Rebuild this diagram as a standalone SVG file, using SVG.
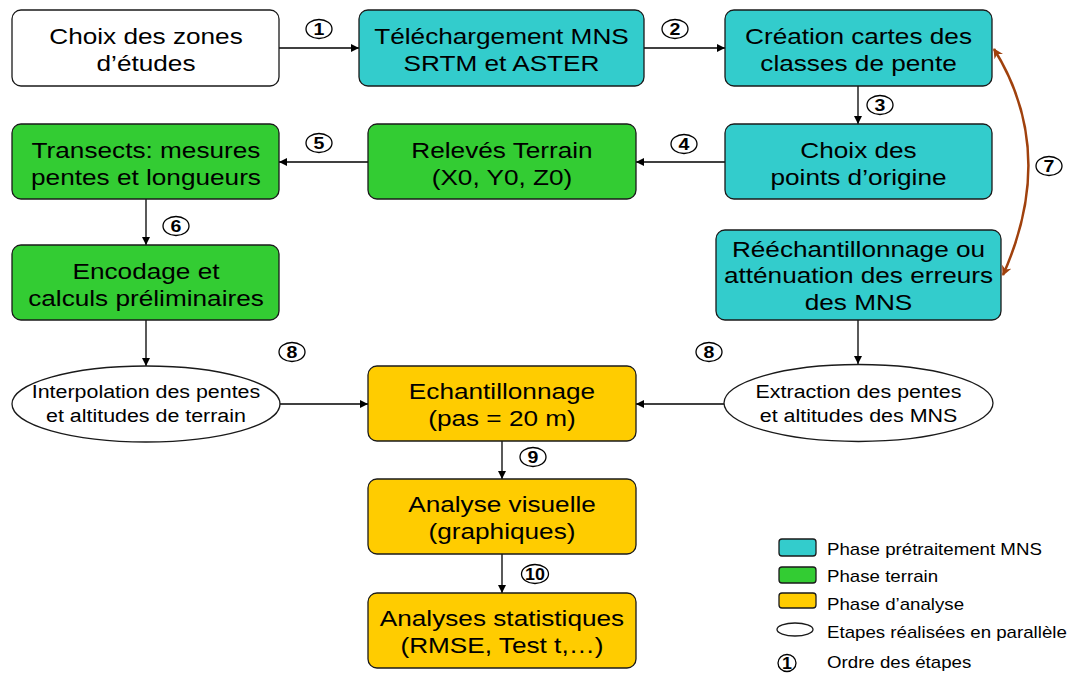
<svg xmlns="http://www.w3.org/2000/svg" width="1073" height="675" viewBox="0 0 1073 675">
<defs>
<style>
.box{stroke:#1a1a1a;stroke-width:1.3}
.w{fill:#ffffff}.c{fill:#33cccc}.g{fill:#33cc33}.y{fill:#ffcc00}
.t{font-family:"Liberation Sans",Arial,sans-serif;font-size:22px;fill:#000;text-anchor:middle}
.te{font-family:"Liberation Sans",Arial,sans-serif;font-size:18px;fill:#000;text-anchor:middle}
.lg{font-family:"Liberation Sans",Arial,sans-serif;font-size:15.7px;fill:#000}
.num{font-family:"Liberation Sans",Arial,sans-serif;font-size:17px;font-weight:bold;fill:#000;text-anchor:middle}
.nc{fill:#fff;stroke:#000;stroke-width:1.3}
.ln{stroke:#000;stroke-width:1.3;fill:none}
</style>
<marker id="ah" viewBox="0 0 10 10" refX="10" refY="5" markerWidth="9" markerHeight="8" markerUnits="userSpaceOnUse" orient="auto"><path d="M0,0 L10,5 L0,10 z" fill="#000"/></marker>
<marker id="bh" viewBox="0 0 10 10" refX="9" refY="5" markerWidth="11" markerHeight="10" markerUnits="userSpaceOnUse" orient="auto-start-reverse"><path d="M0,0 L10,5 L0,10 L3,5 z" fill="#a0410d"/></marker>
</defs>
<rect width="1073" height="675" fill="#fff"/>

<g id="connectors">
<line class="ln" x1="279" y1="48" x2="359" y2="48" marker-end="url(#ah)"/>
<line class="ln" x1="644" y1="48" x2="725" y2="48" marker-end="url(#ah)"/>
<line class="ln" x1="858" y1="86" x2="858" y2="124" marker-end="url(#ah)"/>
<line class="ln" x1="725" y1="162" x2="636" y2="162" marker-end="url(#ah)"/>
<line class="ln" x1="368" y1="162" x2="279" y2="162" marker-end="url(#ah)"/>
<line class="ln" x1="146" y1="199" x2="146" y2="245" marker-end="url(#ah)"/>
<line class="ln" x1="146" y1="320" x2="146" y2="366" marker-end="url(#ah)"/>
<line class="ln" x1="279" y1="404" x2="368" y2="404" marker-end="url(#ah)"/>
<line class="ln" x1="858" y1="320" x2="858" y2="364" marker-end="url(#ah)"/>
<line class="ln" x1="724" y1="404" x2="636" y2="404" marker-end="url(#ah)"/>
<line class="ln" x1="502" y1="441" x2="502" y2="479" marker-end="url(#ah)"/>
<line class="ln" x1="502" y1="554" x2="502" y2="593" marker-end="url(#ah)"/>
<path d="M994,49 Q1058,152 1003,275" fill="none" stroke="#a0410d" stroke-width="2.5" marker-start="url(#bh)" marker-end="url(#bh)"/>
</g>

<g id="step-labels">
<g><ellipse class="nc" cx="319" cy="29" rx="13" ry="9.5"/><text class="num" transform="translate(319 0) scale(1.15 1)" x="0" y="35">1</text></g>
<g><ellipse class="nc" cx="675" cy="29" rx="13" ry="9.5"/><text class="num" transform="translate(675 0) scale(1.15 1)" x="0" y="35">2</text></g>
<g><ellipse class="nc" cx="880" cy="105" rx="13" ry="9.5"/><text class="num" transform="translate(880 0) scale(1.15 1)" x="0" y="111">3</text></g>
<g><ellipse class="nc" cx="684" cy="144" rx="13" ry="9.5"/><text class="num" transform="translate(684 0) scale(1.15 1)" x="0" y="150">4</text></g>
<g><ellipse class="nc" cx="319" cy="143" rx="13" ry="9.5"/><text class="num" transform="translate(319 0) scale(1.15 1)" x="0" y="149">5</text></g>
<g><ellipse class="nc" cx="176" cy="226" rx="13" ry="9.5"/><text class="num" transform="translate(176 0) scale(1.15 1)" x="0" y="232">6</text></g>
<g><ellipse class="nc" cx="1049" cy="166" rx="13" ry="9.5"/><text class="num" transform="translate(1049 0) scale(1.15 1)" x="0" y="172">7</text></g>
<g><ellipse class="nc" cx="292" cy="352" rx="13" ry="9.5"/><text class="num" transform="translate(292 0) scale(1.15 1)" x="0" y="358">8</text></g>
<g><ellipse class="nc" cx="709" cy="352" rx="13" ry="9.5"/><text class="num" transform="translate(709 0) scale(1.15 1)" x="0" y="358">8</text></g>
<g><ellipse class="nc" cx="533" cy="457" rx="13" ry="9.5"/><text class="num" transform="translate(533 0) scale(1.15 1)" x="0" y="463">9</text></g>
<g><ellipse class="nc" cx="535" cy="574" rx="13.5" ry="9.5"/><text class="num" transform="translate(535 0) scale(1.05 1)" x="0" y="580">10</text></g>
</g>

<g id="n-choix-zones"><rect class="box w" x="12" y="10" width="267" height="76" rx="9"/>
<text class="t" transform="translate(146 0) scale(1.19 1)"><tspan x="0" y="44">Choix des zones</tspan><tspan x="0" y="71">d’études</tspan></text></g>

<g id="n-telechargement"><rect class="box c" x="359" y="10" width="285" height="76" rx="9"/>
<text class="t" transform="translate(501.5 0) scale(1.19 1)"><tspan x="0" y="44">Téléchargement MNS</tspan><tspan x="0" y="71">SRTM et ASTER</tspan></text></g>

<g id="n-creation"><rect class="box c" x="725" y="10" width="267" height="76" rx="9"/>
<text class="t" transform="translate(858.5 0) scale(1.19 1)"><tspan x="0" y="44">Création cartes des</tspan><tspan x="0" y="71">classes de pente</tspan></text></g>

<g id="n-choix-points"><rect class="box c" x="725" y="124" width="267" height="75" rx="9"/>
<text class="t" transform="translate(858.5 0) scale(1.19 1)"><tspan x="0" y="158">Choix des</tspan><tspan x="0" y="185">points d’origine</tspan></text></g>

<g id="n-releves"><rect class="box g" x="368" y="124" width="268" height="75" rx="9"/>
<text class="t" transform="translate(502 0) scale(1.19 1)"><tspan x="0" y="158">Relevés Terrain</tspan><tspan x="0" y="185">(X0, Y0, Z0)</tspan></text></g>

<g id="n-transects"><rect class="box g" x="12" y="124" width="267" height="75" rx="9"/>
<text class="t" transform="translate(146 0) scale(1.19 1)"><tspan x="0" y="158">Transects: mesures</tspan><tspan x="0" y="185">pentes et longueurs</tspan></text></g>

<g id="n-encodage"><rect class="box g" x="12" y="245" width="267" height="75" rx="9"/>
<text class="t" transform="translate(146 0) scale(1.19 1)"><tspan x="0" y="279">Encodage et</tspan><tspan x="0" y="306">calculs préliminaires</tspan></text></g>

<g id="n-reechantillonnage"><rect class="box c" x="716" y="230" width="285" height="90" rx="9"/>
<text class="t" transform="translate(858.5 0) scale(1.19 1)"><tspan x="0" y="257">Rééchantillonnage ou</tspan><tspan x="0" y="283.5">atténuation des erreurs</tspan><tspan x="0" y="310">des MNS</tspan></text></g>

<g id="n-interpolation"><ellipse class="box w" cx="146" cy="404" rx="134" ry="38"/>
<text class="te" transform="translate(146 0) scale(1.19 1)"><tspan x="0" y="398">Interpolation des pentes</tspan><tspan x="0" y="422">et altitudes de terrain</tspan></text></g>

<g id="n-extraction"><ellipse class="box w" cx="858.5" cy="403" rx="134.5" ry="38.5"/>
<text class="te" transform="translate(858.5 0) scale(1.19 1)"><tspan x="0" y="398">Extraction des pentes</tspan><tspan x="0" y="422">et altitudes des MNS</tspan></text></g>

<g id="n-echantillonnage"><rect class="box y" x="368" y="366" width="268" height="75" rx="9"/>
<text class="t" transform="translate(502 0) scale(1.19 1)"><tspan x="0" y="399.5">Echantillonnage</tspan><tspan x="0" y="426">(pas = 20 m)</tspan></text></g>

<g id="n-analyse-visuelle"><rect class="box y" x="368" y="479" width="268" height="75" rx="9"/>
<text class="t" transform="translate(502 0) scale(1.19 1)"><tspan x="0" y="512.5">Analyse visuelle</tspan><tspan x="0" y="539">(graphiques)</tspan></text></g>

<g id="n-analyses-stat"><rect class="box y" x="368" y="593" width="268" height="75" rx="9"/>
<text class="t" transform="translate(502 0) scale(1.19 1)"><tspan x="0" y="626.5">Analyses statistiques</tspan><tspan x="0" y="653">(RMSE, Test t,…)</tspan></text></g>

<g id="legend">
<rect class="box c" x="779" y="539" width="37" height="17" rx="3"/>
<text class="lg" transform="translate(827 0) scale(1.19 1)" x="0" y="555">Phase prétraitement MNS</text>
<rect class="box g" x="779" y="567" width="37" height="16" rx="3"/>
<text class="lg" transform="translate(827 0) scale(1.19 1)" x="0" y="582">Phase terrain</text>
<rect class="box y" x="779" y="593" width="37" height="15" rx="3"/>
<text class="lg" transform="translate(827 0) scale(1.19 1)" x="0" y="610">Phase d’analyse</text>
<ellipse class="box w" cx="795" cy="629.5" rx="18" ry="6.5"/>
<text class="lg" transform="translate(827 0) scale(1.19 1)" x="0" y="638">Etapes réalisées en parallèle</text>
<ellipse class="nc" cx="787" cy="663" rx="9" ry="8.5"/>
<text class="num" transform="translate(787 0) scale(1.05 1)" x="0" y="669">1</text>
<text class="lg" transform="translate(827 0) scale(1.19 1)" x="0" y="668">Ordre des étapes</text>
</g>
</svg>
